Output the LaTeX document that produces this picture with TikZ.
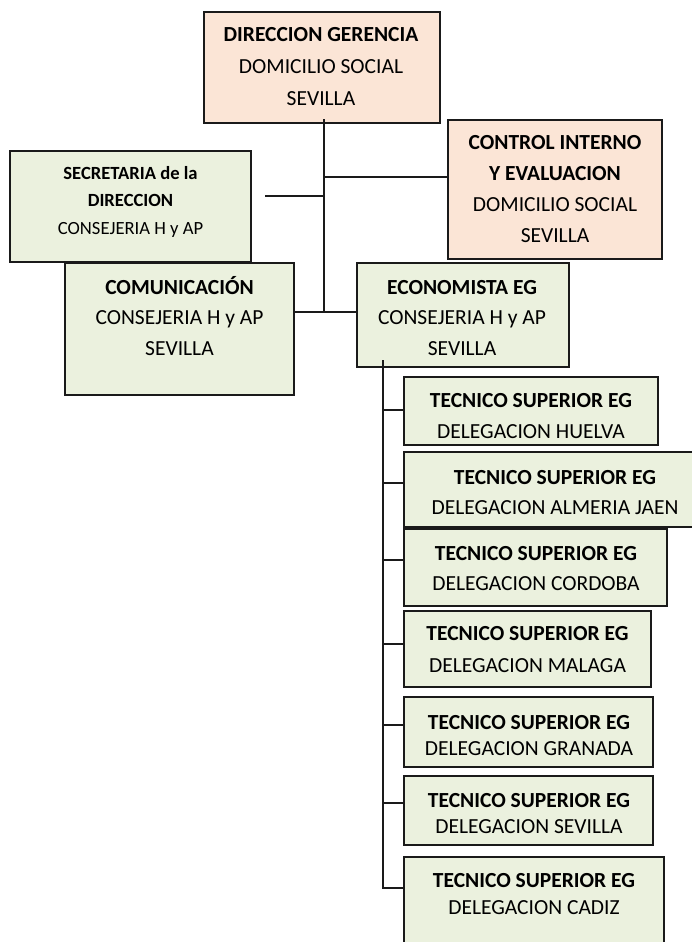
\documentclass[tikz,border=0pt]{standalone}
\usepackage{fontspec}
\setmainfont{Carlito}
\definecolor{peach}{HTML}{FBE5D6}
\definecolor{pale}{HTML}{EBF1DE}
\definecolor{ink}{HTML}{1A1A1A}
\tikzset{
  orgbox/.style={draw=ink, line width=1.4pt, rectangle, inner sep=0pt},
  pbox/.style={orgbox, fill=peach},
  gbox/.style={orgbox, fill=pale},
  txt/.style={inner sep=0pt, anchor=base, align=center, text=black, font=\fontsize{21.5}{#1}\selectfont},
  smalltxt/.style={inner sep=0pt, anchor=base, align=center, text=black, font=\fontsize{18.6}{#1}\selectfont},
  link/.style={draw=ink, line width=1.3pt}
}
\begin{document}
\begin{tikzpicture}[x=1pt,y=-1pt]
\clip (0,0) rectangle (692,942);
\fill[white] (0,0) rectangle (692,942);
% boxes
\node[pbox, minimum width=236pt, minimum height=111pt] (dg) at (322,67.5) {};
\node[pbox, minimum width=214pt, minimum height=139pt] (ci) at (555,189.5) {};
\node[gbox, minimum width=241pt, minimum height=111pt] (sec) at (130.5,206.5) {};
\node[gbox, minimum width=229pt, minimum height=132pt] (com) at (179.5,329) {};
\node[gbox, minimum width=212pt, minimum height=104pt] (eco) at (463,315) {};
\node[gbox, minimum width=254pt, minimum height=68pt] (t1) at (531,411) {};
\node[gbox, minimum width=301pt, minimum height=75pt] (t2) at (554.5,489.5) {};
\node[gbox, minimum width=263pt, minimum height=77pt] (t3) at (535.5,567.5) {};
\node[gbox, minimum width=247pt, minimum height=76pt] (t4) at (527.5,649) {};
\node[gbox, minimum width=249pt, minimum height=70pt] (t5) at (528.5,732) {};
\node[gbox, minimum width=249pt, minimum height=69pt] (t6) at (528.5,810.5) {};
\node[gbox, minimum width=260pt, minimum height=103pt] (t7) at (534,908.5) {};
% texts (anchored at the baseline of the last line)
\node[txt=31.5] (dgt) at (321,105) {\textbf{DIRECCION GERENCIA}\\DOMICILIO SOCIAL\\SEVILLA};
\node[txt=30.7] (cit) at (555,242) {\textbf{CONTROL INTERNO}\\\textbf{Y EVALUACION}\\DOMICILIO SOCIAL\\SEVILLA};
\node[smalltxt=27.5] (sect) at (130.5,234) {\textbf{SECRETARIA de la}\\\textbf{DIRECCION}\\CONSEJERIA H y AP};
\node[txt=30.5] (comt) at (179.5,355) {\textbf{COMUNICACIÓN}\\CONSEJERIA H y AP\\SEVILLA};
\node[txt=30.5] (ecot) at (462,355) {\textbf{ECONOMISTA EG}\\CONSEJERIA H y AP\\SEVILLA};
\node[txt=31] (t1t) at (531,438) {\textbf{TECNICO SUPERIOR EG}\\DELEGACION HUELVA};
\node[txt=30] (t2t) at (555,514) {\textbf{TECNICO SUPERIOR EG}\\DELEGACION ALMERIA JAEN};
\node[txt=30] (t3t) at (536,590) {\textbf{TECNICO SUPERIOR EG}\\DELEGACION CORDOBA};
\node[txt=32] (t4t) at (527.5,672) {\textbf{TECNICO SUPERIOR EG}\\DELEGACION MALAGA};
\node[txt=26] (t5t) at (529,755) {\textbf{TECNICO SUPERIOR EG}\\DELEGACION GRANADA};
\node[txt=26] (t6t) at (529,833) {\textbf{TECNICO SUPERIOR EG}\\DELEGACION SEVILLA};
\node[txt=27] (t7t) at (534,914) {\textbf{TECNICO SUPERIOR EG}\\DELEGACION CADIZ};
% main trunk
\coordinate (dgout) at (324,119);
\coordinate (hub) at (324,312);
\coordinate (cij) at (324,177);
\coordinate (secend) at (265,196);
\draw[link] (dgout) -- (hub);
\draw[link] (cij) -- (cij -| ci.west);
\draw[link] (secend) -- (secend -| hub);
\draw[link] (hub -| com.east) -- (hub -| eco.west);
% economista trunk
\coordinate (ecout) at (383,360);
\coordinate (b1) at (383,410);
\coordinate (b2) at (383,483);
\coordinate (b3) at (383,560);
\coordinate (b4) at (383,644);
\coordinate (b5) at (383,725);
\coordinate (b6) at (383,803);
\coordinate (b7) at (383,888);
\draw[link] (ecout) -- (b7) -- (b7 -| t7.west);
\draw[link] (b1) -- (b1 -| t1.west);
\draw[link] (b2) -- (b2 -| t2.west);
\draw[link] (b3) -- (b3 -| t3.west);
\draw[link] (b4) -- (b4 -| t4.west);
\draw[link] (b5) -- (b5 -| t5.west);
\draw[link] (b6) -- (b6 -| t6.west);
\end{tikzpicture}
\end{document}
